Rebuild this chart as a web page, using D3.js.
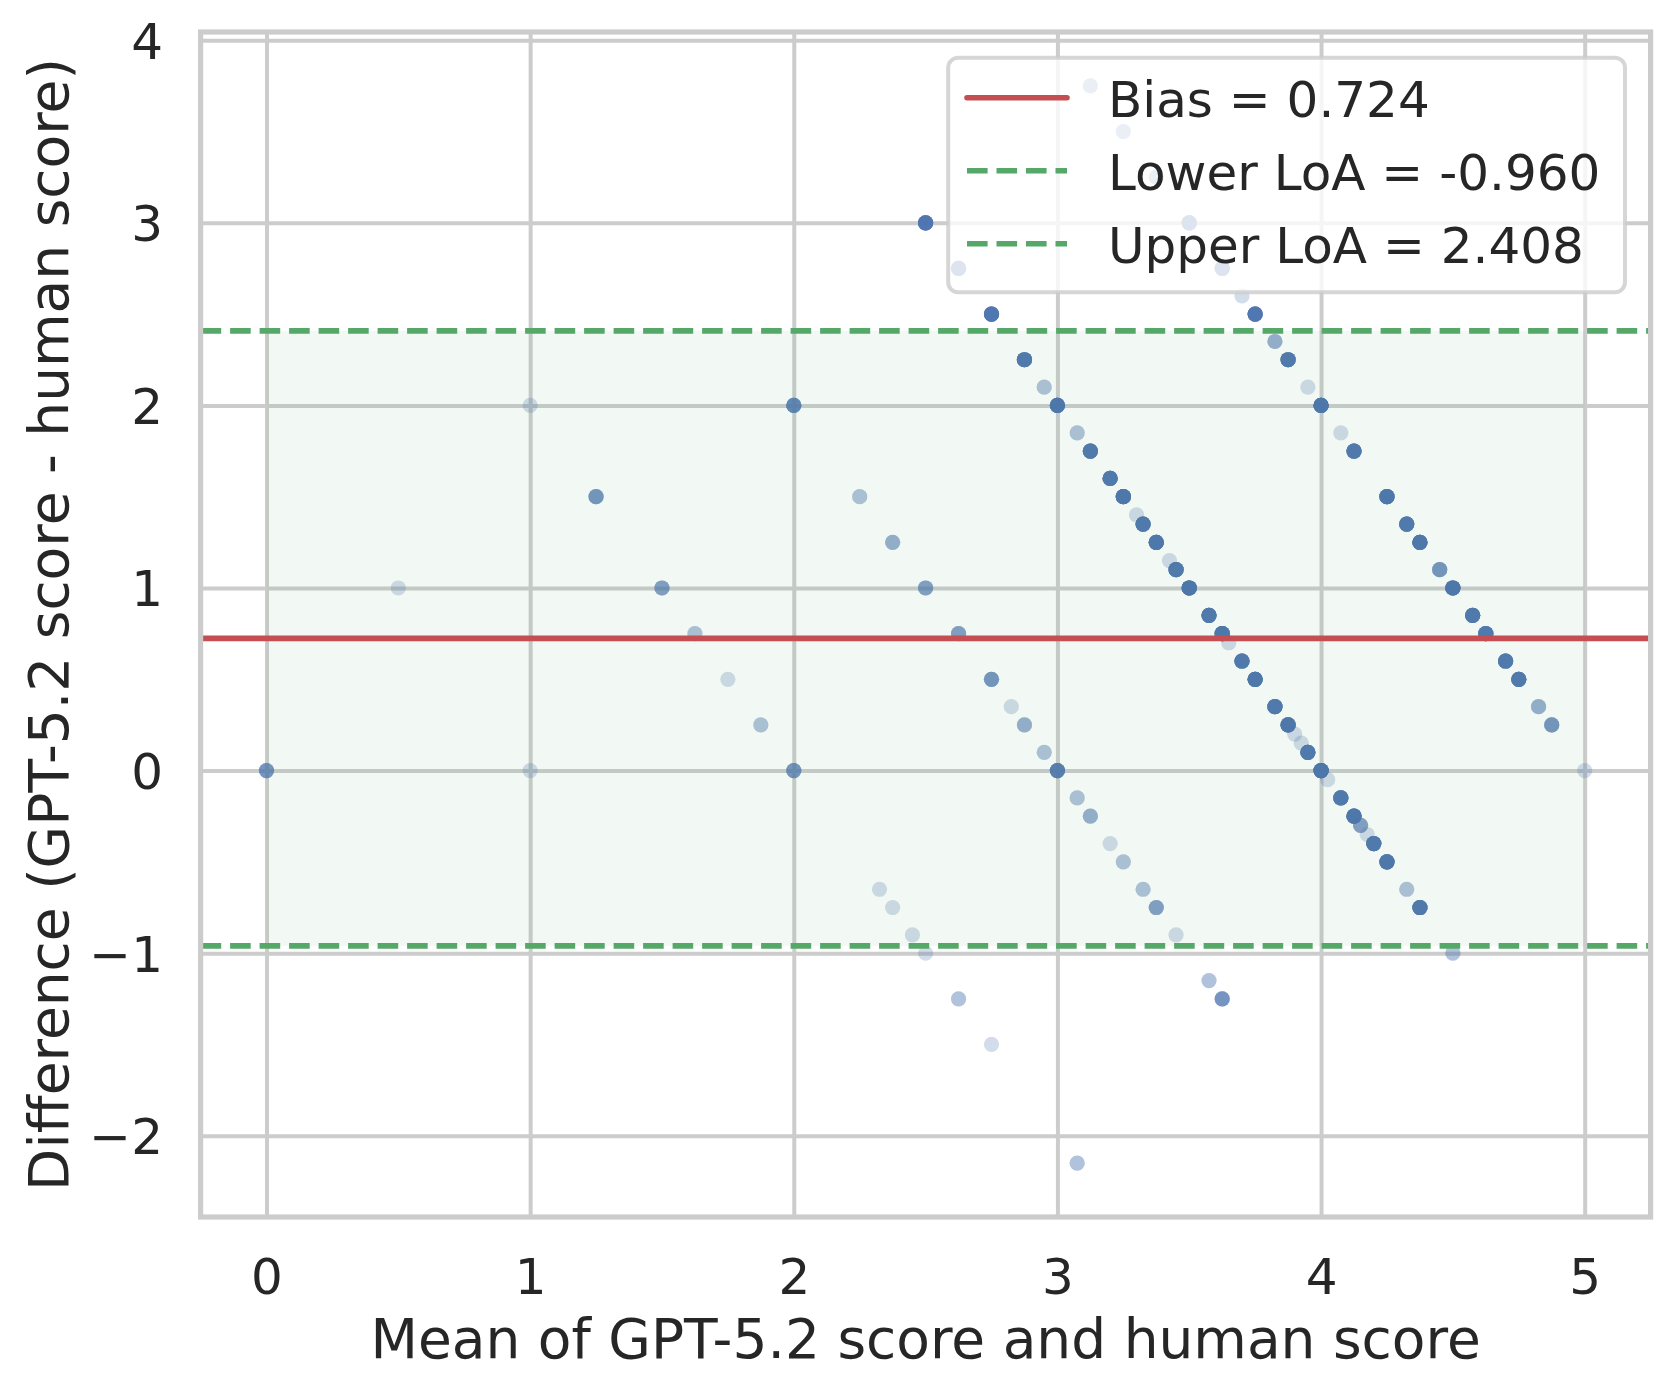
<!DOCTYPE html>
<html>
<head>
<meta charset="utf-8">
<script src="https://cdn.jsdelivr.net/npm/d3@7"></script>
<style>
  body { margin: 0; background: #fff; }
  text { font-family: 'DejaVu Sans', sans-serif; fill: #262626; }
</style>
</head>
<body>
<svg id="blandAltman" width="1672" height="1392"></svg>
<script>
// mean of the two scores, their difference, and how many rows share that spot
var meanScore = [
  0, 0.5, 1.0, 1.0, 2.0,
  1.25, 1.5, 1.625, 1.75, 1.875, 2.0, 2.325, 2.375, 2.45, 2.5, 2.625, 2.75, 3.075,
  2.25, 2.375, 2.5, 2.625, 2.75, 2.825, 2.875, 2.95, 3.0, 3.075, 3.125, 3.2, 3.25, 3.325, 3.375, 3.45, 3.575, 3.625,
  2.5, 2.625, 2.75, 2.875, 2.95, 3.0, 3.075, 3.125, 3.2, 3.25, 3.3, 3.325, 3.375, 3.425, 3.45, 3.5, 3.575, 3.625,
  3.65, 3.7, 3.75, 3.825, 3.875, 3.9, 3.925, 3.95, 4.0, 4.025, 4.075, 4.125, 4.15, 4.175, 4.2, 4.25, 4.325, 4.375, 4.5,
  3.125, 3.25, 3.375, 3.5, 3.625, 3.7, 3.75, 3.825, 3.875, 3.95, 4.0, 4.075, 4.125, 4.25, 4.325, 4.375, 4.45, 4.5,
  4.575, 4.625, 4.7, 4.75, 4.825, 4.875, 5.0
]
var scoreDiff = [
  0, 1.0, 2.0, 0, 2.0,
  1.5, 1.0, 0.75, 0.5, 0.25, 0, -0.65, -0.75, -0.9, -1.0, -1.25, -1.5, -2.15,
  1.5, 1.25, 1.0, 0.75, 0.5, 0.35, 0.25, 0.1, 0, -0.15, -0.25, -0.4, -0.5, -0.65, -0.75, -0.9, -1.15, -1.25,
  3.0, 2.75, 2.5, 2.25, 2.1, 2.0, 1.85, 1.75, 1.6, 1.5, 1.4, 1.35, 1.25, 1.15, 1.1, 1.0, 0.85, 0.75,
  0.7, 0.6, 0.5, 0.35, 0.25, 0.2, 0.15, 0.1, 0, -0.05, -0.15, -0.25, -0.3, -0.35, -0.4, -0.5, -0.65, -0.75, -1.0,
  3.75, 3.5, 3.25, 3.0, 2.75, 2.6, 2.5, 2.35, 2.25, 2.1, 2.0, 1.85, 1.75, 1.5, 1.35, 1.25, 1.1, 1.0,
  0.85, 0.75, 0.6, 0.5, 0.35, 0.25, 0
]
var pointCount = [
  5, 1, 1, 1, 7,
  5, 4, 2, 1, 2, 5, 1, 1, 1, 1, 2, 1, 2,
  2, 3, 4, 4, 5, 1, 3, 2, 9, 2, 3, 1, 2, 2, 4, 1, 2, 5,
  12, 10, 12, 12, 2, 14, 2, 12, 12, 14, 1, 12, 14, 1, 12, 16, 12, 14,
  1, 12, 14, 12, 14, 1, 1, 12, 16, 1, 12, 14, 4, 1, 12, 14, 2, 12, 2,
  3, 3, 3, 10, 10, 1, 12, 3, 12, 1, 14, 1, 12, 14, 12, 14, 5, 14,
  12, 12, 12, 12, 3, 5, 1
]

var bias = 0.724
var lowerLoA = -0.960
var upperLoA = 2.408
var legendLabels = ['Bias = 0.724', 'Lower LoA = -0.960', 'Upper LoA = 2.408']
var xTicks = [0, 1, 2, 3, 4, 5]
var yTicks = [-2, -1, 0, 1, 2, 3, 4]

function drawBlandAltman () {
  var svg = d3.select('#blandAltman')
  var margin = { top: 32, left: 200.6, bottom: 175, right: 21.4 }
  var width = +svg.attr('width') - margin.left - margin.right
  var height = +svg.attr('height') - margin.top - margin.bottom

  var blue = '#4c72b0'
  var red = '#c44e52'
  var green = '#55a868'
  var gridColor = '#cccccc'

  // every observation as its own dot, so overlaps darken like the original
  var points = []
  meanScore.forEach(function (m, i) {
    for (var k = 0; k < pointCount[i]; k++) {
      points.push({ mean: m, diff: scoreDiff[i] })
    }
  })

  var xPad = 0.05 * (d3.max(meanScore) - d3.min(meanScore))
  var yPad = 0.05 * (d3.max(scoreDiff) - d3.min(scoreDiff))

  var x = d3.scaleLinear()
    .domain([d3.min(meanScore) - xPad, d3.max(meanScore) + xPad])
    .range([0, width])

  var y = d3.scaleLinear()
    .domain([d3.min(scoreDiff) - yPad, d3.max(scoreDiff) + yPad])
    .range([height, 0])

  var g = svg.append('g')
    .attr('transform', 'translate(' + margin.left + ',' + margin.top + ')')

  // grid
  var gGridX = g.append('g')
    .attr('class', 'grid x')
    .attr('transform', 'translate(0,' + height + ')')
    .call(d3.axisBottom(x).tickValues(xTicks).tickSize(-height).tickFormat(''))
  var gGridY = g.append('g')
    .attr('class', 'grid y')
    .call(d3.axisLeft(y).tickValues(yTicks).tickSize(-width).tickFormat(''))
  ;[gGridX, gGridY].forEach(function (gr) {
    gr.select('.domain').remove()
    gr.selectAll('line').attr('stroke', gridColor).attr('stroke-width', 4)
  })

  // points
  g.append('g')
    .attr('class', 'points')
    .selectAll('circle')
    .data(points).enter().append('circle')
    .attr('cx', function (d) { return x(d.mean) })
    .attr('cy', function (d) { return y(d.diff) })
    .attr('r', 7.6)
    .attr('fill', blue)
    .attr('fill-opacity', 0.25)

  // agreement band
  g.append('rect')
    .attr('x', x(d3.min(meanScore)))
    .attr('y', y(upperLoA))
    .attr('width', x(d3.max(meanScore)) - x(d3.min(meanScore)))
    .attr('height', y(lowerLoA) - y(upperLoA))
    .attr('fill', green)
    .attr('fill-opacity', 0.08)

  var hLines = [
    { value: bias, color: red, dash: null },
    { value: lowerLoA, color: green, dash: '20.6,8.9' },
    { value: upperLoA, color: green, dash: '20.6,8.9' }
  ]

  g.selectAll('line.ref')
    .data(hLines).enter().append('line')
    .attr('class', 'ref')
    .attr('x1', 0)
    .attr('x2', width)
    .attr('y1', function (d) { return y(d.value) })
    .attr('y2', function (d) { return y(d.value) })
    .attr('stroke', function (d) { return d.color })
    .attr('stroke-width', 5.56)
    .attr('stroke-dasharray', function (d) { return d.dash })

  // spines
  g.append('rect')
    .attr('width', width)
    .attr('height', height)
    .attr('fill', 'none')
    .attr('stroke', gridColor)
    .attr('stroke-width', 5.2)

  // tick labels
  var gXaxis = g.append('g')
    .attr('class', 'x axis')
    .attr('transform', 'translate(0,' + height + ')')
    .call(d3.axisBottom(x).tickValues(xTicks).tickSize(0).tickFormat(d3.format('d')))
  var gYaxis = g.append('g')
    .attr('class', 'y axis')
    .call(d3.axisLeft(y).tickValues(yTicks).tickSize(0).tickPadding(37.6).tickFormat(d3.format('d')))
  ;[gXaxis, gYaxis].forEach(function (ax) {
    ax.select('.domain').remove()
    ax.selectAll('text')
      .attr('font-family', null)
      .attr('fill', null)
      .style('font-size', '50px')
  })
  gXaxis.selectAll('text').attr('y', 77).attr('dy', null)
  gYaxis.selectAll('text').attr('dy', '0.36em')

  // axis titles
  svg.append('text')
    .attr('x', margin.left + width / 2)
    .attr('y', 1358)
    .attr('text-anchor', 'middle')
    .style('font-size', '55px')
    .text('Mean of GPT-5.2 score and human score')

  svg.append('text')
    .attr('transform', 'translate(68,' + (margin.top + height / 2) + ') rotate(-90)')
    .attr('text-anchor', 'middle')
    .style('font-size', '55px')
    .text('Difference (GPT-5.2 score - human score)')

  // legend
  var gLegend = svg.append('g').attr('class', 'legend')
  gLegend.append('rect')
    .attr('x', 948.2)
    .attr('y', 57.7)
    .attr('width', 676.8)
    .attr('height', 234.6)
    .attr('rx', 10)
    .attr('fill', '#ffffff')
    .attr('fill-opacity', 0.8)
    .attr('stroke', gridColor)
    .attr('stroke-opacity', 0.8)
    .attr('stroke-width', 4)

  var rows = gLegend.selectAll('g.row')
    .data(hLines).enter().append('g')
    .attr('class', 'row')
    .attr('transform', function (d, i) { return 'translate(0,' + (97.7 + i * 73) + ')' })

  rows.append('line')
    .attr('x1', 967)
    .attr('x2', 1067)
    .attr('stroke', function (d) { return d.color })
    .attr('stroke-width', 5.56)
    .attr('stroke-linecap', function (d) { return d.dash ? 'butt' : 'round' })
    .attr('stroke-dasharray', function (d) { return d.dash })

  rows.append('text')
    .attr('x', 1108)
    .attr('y', 19.6)
    .style('font-size', '50px')
    .text(function (d, i) { return legendLabels[i] })
}

drawBlandAltman()
</script>
</body>
</html>
